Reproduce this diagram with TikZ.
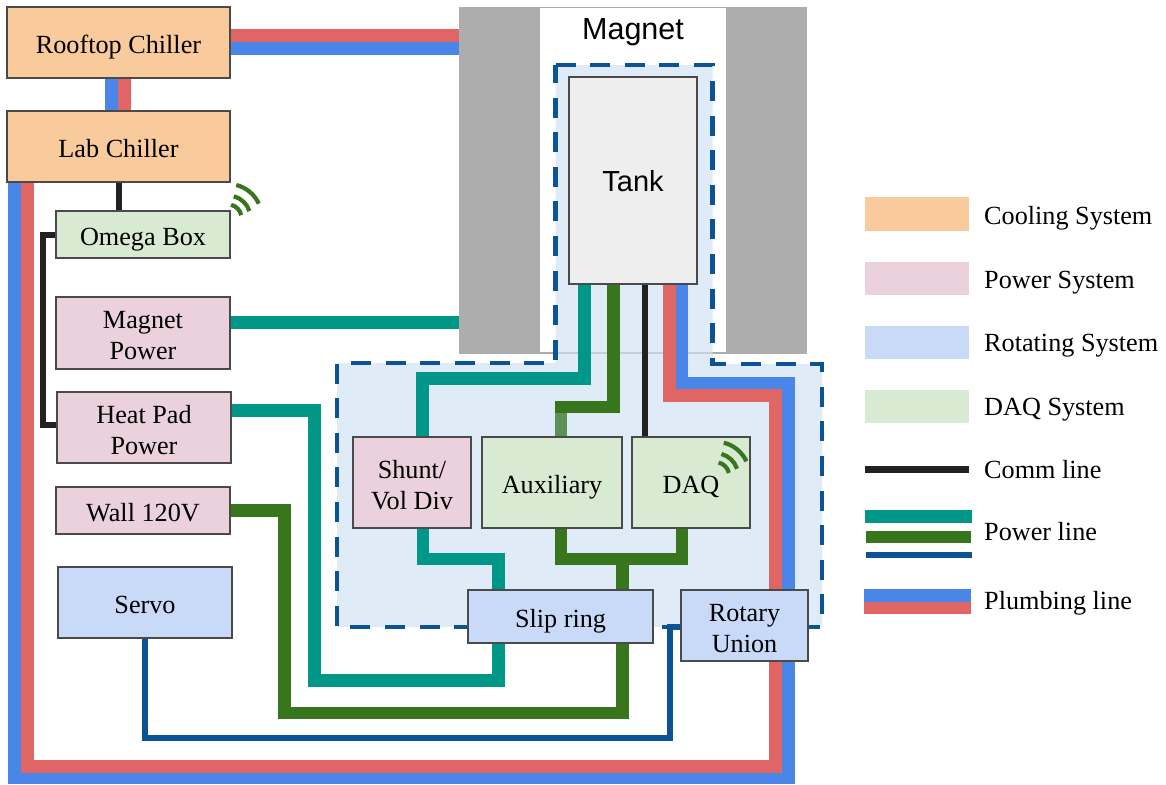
\documentclass[tikz,border=0pt]{standalone}
\usepackage{fontspec}
\setmainfont{Liberation Serif}
\newfontfamily\sansf{Liberation Sans}
\lineskiplimit=-100pt\relax
\pgfdeclarelayer{back}
\pgfdeclarelayer{mid}
\pgfsetlayers{back,mid,main}
\definecolor{cool}{HTML}{F9CB9C}
\definecolor{powr}{HTML}{EAD1DC}
\definecolor{rota}{HTML}{C9DAF8}
\definecolor{daqc}{HTML}{D9EAD3}
\definecolor{edgec}{HTML}{4A4A4A}
\definecolor{magg}{HTML}{ADADAD}
\definecolor{tankc}{HTML}{EEEEEE}
\definecolor{zonec}{HTML}{CFE2F3}
\definecolor{tealc}{HTML}{009688}
\definecolor{grnc}{HTML}{38761D}
\definecolor{grnl}{HTML}{5E9058}
\definecolor{dblue}{HTML}{0B5394}
\definecolor{pblue}{HTML}{4A86E8}
\definecolor{pred}{HTML}{E06666}
\definecolor{commc}{HTML}{212121}
\newcommand{\st}{\rule[-6pt]{0pt}{34pt}}
\newcommand{\stl}{\rule[-6.5pt]{0pt}{31pt}}
\newcommand{\wifisign}[2]{%
  \draw[wifiarc] (#1,#2) ++(77:13.5pt) arc[start angle=77,end angle=12,radius=13.5pt];
  \draw[wifiarc] (#1,#2) ++(75:22.5pt) arc[start angle=75,end angle=18,radius=22.5pt];
  \draw[wifiarc] (#1,#2) ++(76:34pt) arc[start angle=76,end angle=25,radius=34pt];}
\tikzset{
  x=1pt,y=-1pt,
  boxn/.style n args={3}{draw=edgec,line width=1.35pt,inner sep=0pt,align=center,
    fill=#1,minimum width=#2pt,minimum height=#3pt,
    font=\fontsize{26.2}{31}\selectfont},
  swatch/.style={inner sep=0pt,minimum width=104pt,minimum height=33.5pt,fill=#1},
  legtext/.style={anchor=west,inner sep=0pt,align=left,font=\fontsize{26.2}{31}\selectfont},
  comm/.style={draw=commc,line width=6pt},
  teal line/.style={draw=tealc,line width=12.7pt},
  green line/.style={draw=grnc,line width=12.7pt},
  green light/.style={draw=grnl,line width=12.7pt},
  servo line/.style={draw=dblue,line width=6pt},
  plumb blue/.style={draw=pblue,line width=12.7pt},
  plumb red/.style={draw=pred,line width=12.7pt},
  wifiarc/.style={draw=grnc,line width=4.2pt},
}
\begin{document}
\begin{tikzpicture}
\useasboundingbox (0,0) rectangle (1166,784);
\begin{pgfonlayer}{back}
  \fill[white] (0,0) rectangle (1166,784);
  \node[fill=magg,inner sep=0pt,minimum width=348pt,minimum height=347pt] (magnet) at (633,180.5) {};
  \node[fill=white,inner sep=0pt,minimum width=186pt,minimum height=344pt] (bore) at (633,180) {};
  \fill[zonec,fill opacity=.65] (555.5,65) -- (712.5,65) -- (712.5,364) -- (822,364) -- (822,627) -- (337,627) -- (337,363) -- (555.5,363) -- cycle;
  \draw[dblue,line width=4.6pt,dash pattern=on 20pt off 14.6pt]
    (555.5,65) -- (712.5,65) -- (712.5,364) -- (822,364) -- (822,627) -- (337,627) -- (337,363) -- (555.5,363) -- cycle;
\end{pgfonlayer}

\node[inner sep=0pt,font=\sansf\fontsize{30.5}{36}\selectfont] (magnetlabel) at (633,32) {Magnet};
\node[boxn={tankc}{128}{207},font=\sansf\fontsize{29}{34}\selectfont] (tank) at (633,180.5) {\rule{0pt}{22pt}Tank};
\node[boxn={cool}{223}{71}] (rooftop) at (118.5,42.5) {\st Rooftop Chiller};
\node[boxn={cool}{223}{71}] (lab) at (118.5,146.5) {\st Lab Chiller};
\node[boxn={daqc}{174}{47}] (omega) at (143,234.5) {\st Omega Box};
\node[boxn={powr}{174}{72}] (magpow) at (143,333) {\st Magnet\\\st Power};
\node[boxn={powr}{174}{71}] (heat) at (144,427.5) {\st Heat Pad\\\st Power};
\node[boxn={powr}{174}{47}] (wall) at (143,510.5) {\st Wall 120V};
\node[boxn={rota}{174}{71}] (servo) at (145,602.5) {\st Servo};
\node[boxn={powr}{118}{91}] (shunt) at (412,482.5) {\st Shunt/\\\st Vol Div};
\node[boxn={daqc}{140}{91}] (aux) at (552,482.5) {\st Auxiliary};
\node[boxn={daqc}{118}{91}] (daq) at (691,482.5) {\st DAQ};
\node[boxn={rota}{185}{53}] (slip) at (560.5,616.5) {\st Slip ring};
\node[boxn={rota}{127}{71}] (rotary) at (744.5,625.5) {\st Rotary\\\st Union};

\begin{pgfonlayer}{mid}
  % plumbing
  \draw[plumb red] (rooftop.east |- 0,35.8) -- (magnet.west |- 0,35.8);
  \draw[plumb blue] (rooftop.east |- 0,48.4) -- (magnet.west |- 0,48.4);
  \draw[plumb blue] (rooftop.south -| 111.5,0) -- (lab.north -| 111.5,0);
  \draw[plumb red] (rooftop.south -| 124.5,0) -- (lab.north -| 124.5,0);
  \draw[plumb blue] (tank.south -| 682,0) -- (682,383) -- (788.5,383) -- (788.5,778) -- (14.5,778) -- (lab.south -| 14.5,0);
  \draw[plumb red] (tank.south -| 669.5,0) -- (669.5,395.5) -- (775.5,395.5) -- (775.5,766.5) -- (27.5,766.5) -- (lab.south -| 27.5,0);
  % comm
  \draw[comm] (lab.south) -- (omega.north -| lab.south);
  \draw[comm] (omega.west) -- (43,234.5) -- (43,425) -- (heat.west |- 0,425);
  \draw[comm] (tank.south -| 645,0) -- (daq.north -| 645,0);
  % power
  \draw[teal line] (magpow.east |- 0,322.5) -- (magnet.west |- 0,322.5);
  \draw[teal line] (tank.south -| 584.3,0) -- (584.3,378.7) -- (422.5,378.7) -- (shunt.north -| 422.5,0);
  \draw[green light] (561,407) -- (aux.north -| 561,0);
  \draw[green line] (tank.south -| 613.7,0) -- (613.7,407) -- (554.7,407);
  \draw[teal line] (shunt.south -| 423,0) -- (423,559) -- (498.7,559) -- (slip.north -| 498.7,0);
  \draw[green line] (aux.south -| 561,0) -- (561,559) -- (682,559) -- (daq.south -| 682,0);
  \draw[green line] (622.5,559) -- (slip.north -| 622.5,0);
  \draw[teal line] (slip.south -| 498.7,0) -- (498.7,680.3) -- (314.7,680.3) -- (314.7,410.3) -- (heat.east |- 0,410.3);
  \draw[green line] (slip.south -| 622.5,0) -- (622.5,713) -- (284.7,713) -- (284.7,510.7) -- (wall.east |- 0,510.7);
  \draw[servo line] (servo.south -| 144.7,0) -- (144.7,737.7) -- (670,737.7) -- (670,627) -- (rotary.west |- 0,627);
\end{pgfonlayer}

\wifisign{228}{218}
\wifisign{715.6}{475.7}

% legend
\node[swatch=cool] (l1) at (917,214) {};
\node[swatch=powr] (l2) at (917,278.5) {};
\node[swatch=rota] (l3) at (917,342.5) {};
\node[swatch=daqc] (l4) at (917,406.5) {};
\node[legtext] (t1) at (984,215) {\stl Cooling System};
\node[legtext] (t2) at (984,279) {\stl Power System};
\node[legtext] (t3) at (984,342.5) {\stl Rotating System};
\node[legtext] (t4) at (984,406) {\stl DAQ System};
\node[legtext] (t5) at (984,469.5) {\stl Comm line};
\node[legtext] (t6) at (984,531.5) {\stl Power line};
\node[legtext] (t7) at (984,600) {\stl Plumbing line};
\coordinate (c1a) at (865.3,469.5); \coordinate (c1b) at (968.5,469.5);
\coordinate (c2a) at (865.3,516.3); \coordinate (c2b) at (972,516.3);
\coordinate (c3a) at (866.3,537); \coordinate (c3b) at (971,537);
\coordinate (c4a) at (866.3,555); \coordinate (c4b) at (972,555);
\coordinate (c5a) at (863.5,595.6); \coordinate (c5b) at (970.5,595.6);
\coordinate (c6a) at (863.5,608); \coordinate (c6b) at (970.5,608);
\draw[draw=commc,line width=7pt] (c1a) -- (c1b);
\draw[teal line] (c2a) -- (c2b);
\draw[green line] (c3a) -- (c3b);
\draw[servo line,line width=6.8pt] (c4a) -- (c4b);
\draw[plumb blue,line width=12.3pt] (c5a) -- (c5b);
\draw[plumb red,line width=12.7pt] (c6a) -- (c6b);
\end{tikzpicture}
\end{document}
